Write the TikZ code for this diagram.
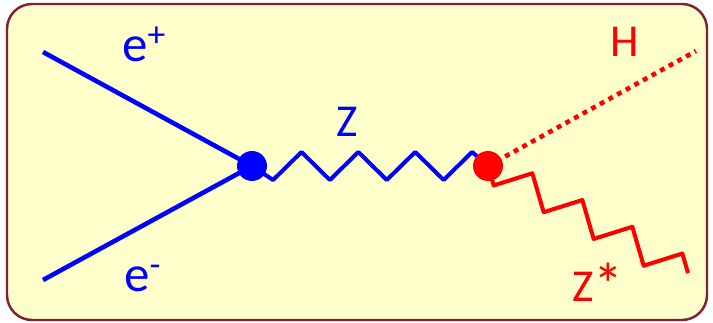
\documentclass[tikz,border=0pt]{standalone}
\usepackage{fontspec}
\setmainfont{Carlito}
\usepackage{tikz}
\usepackage{xcolor}
\usetikzlibrary{calc}
\definecolor{panelfill}{RGB}{255,255,204}
\definecolor{panelline}{RGB}{128,32,48}

\begin{document}
\begin{tikzpicture}[x=0.02cm, y=-0.02cm,
    fermion/.style={line width=2.6pt, blue},
    zbos/.style={line width=2.3pt, line join=round, #1},
    higgs/.style={line width=2.6pt, red, dash pattern=on 2.8pt off 2.8pt},
    blob/.style={circle, fill=#1, inner sep=0pt, minimum size=0.6cm},
    lbl/.style={anchor=base west, inner sep=0pt, font=\fontsize{26}{30}\selectfont}]
    \useasboundingbox (0,0) rectangle (713,323);

    % Draw panel
    \draw[panelline, line width=1.4pt, fill=panelfill, rounded corners=0.5cm] (7,4) rectangle (707,320);

    % Vertices and free ends
    \coordinate (vtxA) at (252,166);
    \coordinate (vtxB) at (488,166);
    \coordinate (epos) at (43,52);
    \coordinate (eneg) at (43,280);
    \coordinate (hend) at (696,51);
    \coordinate (zsend) at (688,273);

    % Incoming electrons
    \draw[fermion] (epos) -- (vtxA);
    \draw[fermion] (eneg) -- (vtxA);

    % Z propagator
    \draw[zbos=blue] (vtxA) \foreach \k in {1,...,8} {
        -- ($(vtxA)!{(\k-0.26)/8.3}!(vtxB)!{(1-2*mod(\k,2))*0.28cm}!90:(vtxB)$)
    } -- (vtxB);

    % Higgs and Z*
    \draw[higgs] (vtxB) -- (hend);
    \draw[zbos=red] (vtxB) \foreach \k in {1,...,8} {
        -- ($(vtxB)!{(2*\k-1)/16}!(zsend)!{(1-2*mod(\k,2))*0.29cm}!90:(zsend)$)
    } -- (zsend);

    % Vertex dots
    \node[blob=blue] (dotA) at (vtxA) {};
    \node[blob=red] (dotB) at (vtxB) {};

    % Labels
    \node[lbl, blue, font=\fontsize{29}{32}\selectfont] (lblep) at (122,62) {e\textsuperscript{+}};
    \node[lbl, blue, font=\fontsize{29}{32}\selectfont] (lblem) at (124,292) {e\textsuperscript{-}};
    \node[lbl, blue] (lblz) at (336,137) {Z};
    \node[lbl, red] (lblh) at (610,57) {H};
    \node[lbl, red] (lblzs) at (572,302) {Z\raisebox{-2pt}{\fontsize{34}{34}\selectfont *}};
\end{tikzpicture}
\end{document}
